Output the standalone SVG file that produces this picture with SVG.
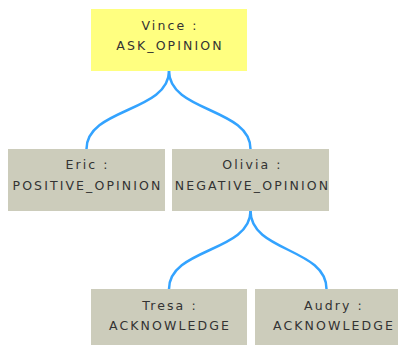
<svg xmlns="http://www.w3.org/2000/svg" width="405" height="345" viewBox="0 0 405 345">
<style>
.root{fill:#FFFF80}
.box{fill:#CCCCBB}
.t{font-family:"DejaVu Sans",Verdana,sans-serif;font-size:12.5px;letter-spacing:2.1px;fill:#333;text-anchor:middle}
.c{fill:none;stroke:#33A3FF;stroke-width:2.5}
</style>
<rect width="405" height="345" fill="#fff"/>
<g id="connectors">
<path class="c" d="M169,71 C169,112 86.5,108 86.5,149"/>
<path class="c" d="M169,71 C169,112 250.5,108 250.5,149"/>
<path class="c" d="M250.5,211 C250.5,252 169,248 169,289"/>
<path class="c" d="M250.5,211 C250.5,252 326.5,248 326.5,289"/>
</g>
<g id="vince">
<rect class="root" x="91" y="9" width="156" height="62"/>
<text class="t" x="170" y="29.5">Vince :</text>
<text class="t" x="170" y="49.5">ASK_OPINION</text>
</g>
<g id="eric">
<rect class="box" x="8" y="149" width="157" height="62"/>
<text class="t" x="87.5" y="168.5">Eric :</text>
<text class="t" x="87.5" y="189.5">POSITIVE_OPINION</text>
</g>
<g id="olivia">
<rect class="box" x="172" y="149" width="157" height="62"/>
<text class="t" x="252.5" y="168.5">Olivia :</text>
<text class="t" x="252.5" y="189.5">NEGATIVE_OPINION</text>
</g>
<g id="tresa">
<rect class="box" x="91" y="289" width="156" height="56"/>
<text class="t" x="170" y="309.5">Tresa :</text>
<text class="t" x="170" y="329.5">ACKNOWLEDGE</text>
</g>
<g id="audry">
<rect class="box" x="255" y="289" width="143" height="56"/>
<text class="t" x="334" y="309.5">Audry :</text>
<text class="t" x="334" y="329.5">ACKNOWLEDGE</text>
</g>
</svg>
